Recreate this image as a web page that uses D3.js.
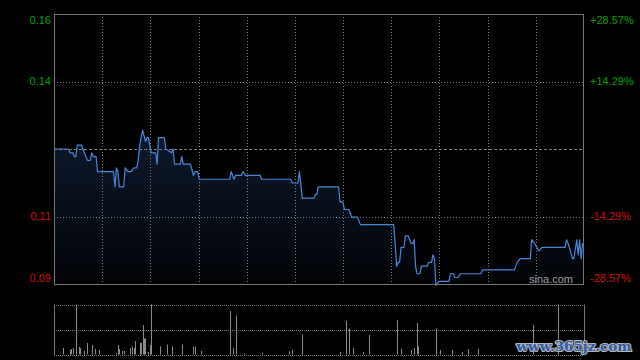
<!DOCTYPE html>
<html><head><meta charset="utf-8">
<script src="https://cdn.jsdelivr.net/npm/d3@7/dist/d3.min.js"></script>
<style>html,body{margin:0;padding:0;background:#000;}svg{display:block;}</style>
</head><body>
<script>
// ---- data ----
const basePrice = 0.125;
const pctSteps = [2, 1, 0, -1, -2]; // multiples of 1/7
const days = [0,10,11,13,14,15,16,19,21,23,25,26,27,29,30,41,42,43,44,45,47,48,49,51,53,55,57,58,59,61,63,64,65,67,70,71,72,76,77,81,82,83,87,88,89,94,96,97,99,100,121,122,124,125,129,130,132,142,143,163,164,168,169,171,179,180,181,182,196,197,199,200,203,205,209,211,234,236,237,238,239,241,242,244,246,247,248,249,250,252,253,257,258,260,261,262,263,265,272,273,275,276,278,280,294,295,317,319,321,328,329,331,334,336,352,353,355,357,358,360,361,362,363,364,365];
const prices = [0.125,0.125,0.124,0.124,0.123,0.123,0.126,0.126,0.124,0.122,0.122,0.124,0.123,0.123,0.119,0.119,0.115,0.120,0.119,0.115,0.115,0.115,0.120,0.119,0.119,0.120,0.120,0.122,0.126,0.130,0.127,0.128,0.128,0.124,0.124,0.121,0.128,0.128,0.125,0.124,0.125,0.121,0.121,0.123,0.121,0.121,0.118,0.119,0.119,0.117,0.117,0.119,0.117,0.118,0.118,0.119,0.118,0.118,0.117,0.117,0.116,0.116,0.119,0.112,0.112,0.113,0.113,0.115,0.115,0.111,0.111,0.109,0.109,0.107,0.107,0.105,0.105,0.094,0.095,0.095,0.099,0.099,0.102,0.102,0.100,0.100,0.101,0.094,0.092,0.092,0.094,0.094,0.095,0.095,0.097,0.096,0.089,0.090,0.090,0.092,0.092,0.091,0.091,0.092,0.092,0.093,0.093,0.095,0.096,0.096,0.101,0.100,0.098,0.099,0.099,0.101,0.099,0.096,0.096,0.101,0.097,0.101,0.096,0.100,0.100];
const volDays = [6,11,12,13,15,17,18,21,23,26,28,31,43,44,45,47,48,52,54,55,56,59,60,61,62,63,65,66,67,73,78,81,88,96,97,101,121,123,125,131,143,162,164,171,197,201,203,206,213,217,236,239,246,248,250,251,263,266,274,281,285,292,330,347];
const volumes = [13,9,11,13,100,15,13,7,23,19,11,9,3,19,11,7,7,13,16,13,27,23,23,59,32,32,5,19,100,16,20,16,20,16,16,7,87,13,78,3,3,7,9,40,5,67,52,13,5,39,69,11,9,13,63,16,52,9,9,5,11,11,59,100];
const xCols = 11;

// ---- layout ----
const W = 640, H = 360;
const L = 54, R = 584, T = 14, B = 284;
const VT = 304.5, VB = 354.5;

const svg = d3.select("body").append("svg").attr("width", W).attr("height", H)
  .style("background", "#000");

const x = d3.scaleLinear().domain([0, 365]).range([L, R]);
const y = d3.scaleLinear().domain([basePrice * 5 / 7, basePrice * 9 / 7]).range([B, T]);
const yv = d3.scaleLinear().domain([0, 100]).range([VB, VT]);

const defs = svg.append("defs");
const grad = defs.append("linearGradient").attr("id", "fillg").attr("x1", 0).attr("y1", 0).attr("x2", 0).attr("y2", 1);
grad.append("stop").attr("offset", "0%").attr("stop-color", "#0d1a2e");
grad.append("stop").attr("offset", "100%").attr("stop-color", "#020306");
defs.append("clipPath").attr("id", "clipMain").append("rect").attr("x", L).attr("y", T).attr("width", R - L).attr("height", B - T + 2);

const pts = days.map((d, i) => ({ d, p: prices[i] }));

// area
svg.append("path").datum(pts)
  .attr("clip-path", "url(#clipMain)")
  .attr("fill", "url(#fillg)")
  .attr("d", d3.area().x(v => x(v.d)).y0(B).y1(v => y(v.p)));

// grid: vertical
const grid = svg.append("g");
const colTicks = d3.range(1, xCols).map(i => i * 365 / xCols);
grid.selectAll("line.v").data(colTicks).join("line")
  .attr("x1", d => Math.round(x(d)) + 0.5).attr("x2", d => Math.round(x(d)) + 0.5)
  .attr("y1", T).attr("y2", B)
  .attr("stroke", "#7a7a7a").attr("stroke-dasharray", "1,2");

// grid: horizontal
const hTicks = pctSteps.map(k => ({ k, v: basePrice * (1 + k / 7) }));
grid.selectAll("line.h").data(hTicks.filter(t => Math.abs(t.k) === 1 || t.k === 0)).join("line")
  .attr("x1", L).attr("x2", R)
  .attr("y1", d => Math.round(y(d.v)) + 0.5).attr("y2", d => Math.round(y(d.v)) + 0.5)
  .attr("stroke", d => d.k === 0 ? "#808080" : "#7a7a7a")
  .attr("stroke-dasharray", d => d.k === 0 ? "3,2" : "1,2");

// price line
svg.append("path").datum(pts)
  .attr("clip-path", "url(#clipMain)")
  .attr("fill", "none").attr("stroke", "#4a86dc").attr("stroke-width", 1.2)
  .attr("stroke-linejoin", "round")
  .attr("d", d3.line().x(v => x(v.d)).y(v => y(v.p)));

// main frame
svg.append("rect").attr("x", L + 0.5).attr("y", T + 0.5).attr("width", R - L - 1).attr("height", B - T)
  .attr("fill", "none").attr("stroke", "#777");

// axis labels
const fmtP = d3.format(".2f");
const labelTicks = hTicks.filter(t => t.k !== 0);
const labelY = t => Math.min(Math.max(y(t.v), T + 6), B - 6);
svg.selectAll("text.l").data(labelTicks).join("text")
  .attr("x", 51).attr("y", labelY).attr("dy", "0.35em")
  .attr("text-anchor", "end")
  .attr("font-family", "Liberation Sans, Arial, sans-serif").attr("font-size", 11)
  .attr("fill", t => t.k > 0 ? "#00a000" : "#d01010")
  .text(t => fmtP(t.v));
svg.selectAll("text.r").data(labelTicks).join("text")
  .attr("x", 590).attr("y", labelY).attr("dy", "0.35em")
  .attr("text-anchor", "start")
  .attr("font-family", "Liberation Sans, Arial, sans-serif").attr("font-size", 11)
  .attr("fill", t => t.k > 0 ? "#00a000" : "#d01010")
  .text(t => (t.k > 0 ? "+" : "-") + (Math.abs(t.k) / 7 * 100).toFixed(2) + "%");

// sina.com
svg.append("text").attr("x", 573).attr("y", 283)
  .attr("text-anchor", "end")
  .attr("font-family", "Liberation Sans, Arial, sans-serif").attr("font-size", 11)
  .attr("fill", "#a0a0a0").text("sina.com");

// volume panel
const vg = svg.append("g");
[VT, (VT + VB) / 2, VB].forEach(yy => {
  vg.append("line").attr("x1", L).attr("x2", R).attr("y1", Math.round(yy) + 0.5).attr("y2", Math.round(yy) + 0.5)
    .attr("stroke", "#7a7a7a").attr("stroke-dasharray", "1,1");
});
vg.selectAll("line.bar").data(volDays.map((d, i) => ({ d, v: volumes[i] }))).join("line")
  .attr("x1", d => Math.round(x(d.d)) + 0.5).attr("x2", d => Math.round(x(d.d)) + 0.5)
  .attr("y1", VB).attr("y2", d => yv(d.v))
  .attr("stroke", "#8c8c8c").attr("stroke-width", 1);
[L + 0.5, R + 0.5].forEach(xx => {
  vg.append("line").attr("x1", xx).attr("x2", xx).attr("y1", VT).attr("y2", VB + 0.5).attr("stroke", "#777");
});

// watermark
svg.append("text").attr("x", 574).attr("y", 351)
  .attr("text-anchor", "middle")
  .attr("font-family", "DejaVu Serif, serif").attr("font-weight", "bold").attr("font-size", 13.5)
  .attr("fill", "#2a5aa8").attr("stroke", "#b8b8b8").attr("stroke-width", 2.2)
  .attr("paint-order", "stroke").attr("stroke-linejoin", "round")
  .text("www.365jz.com");
</script>
</body></html>
